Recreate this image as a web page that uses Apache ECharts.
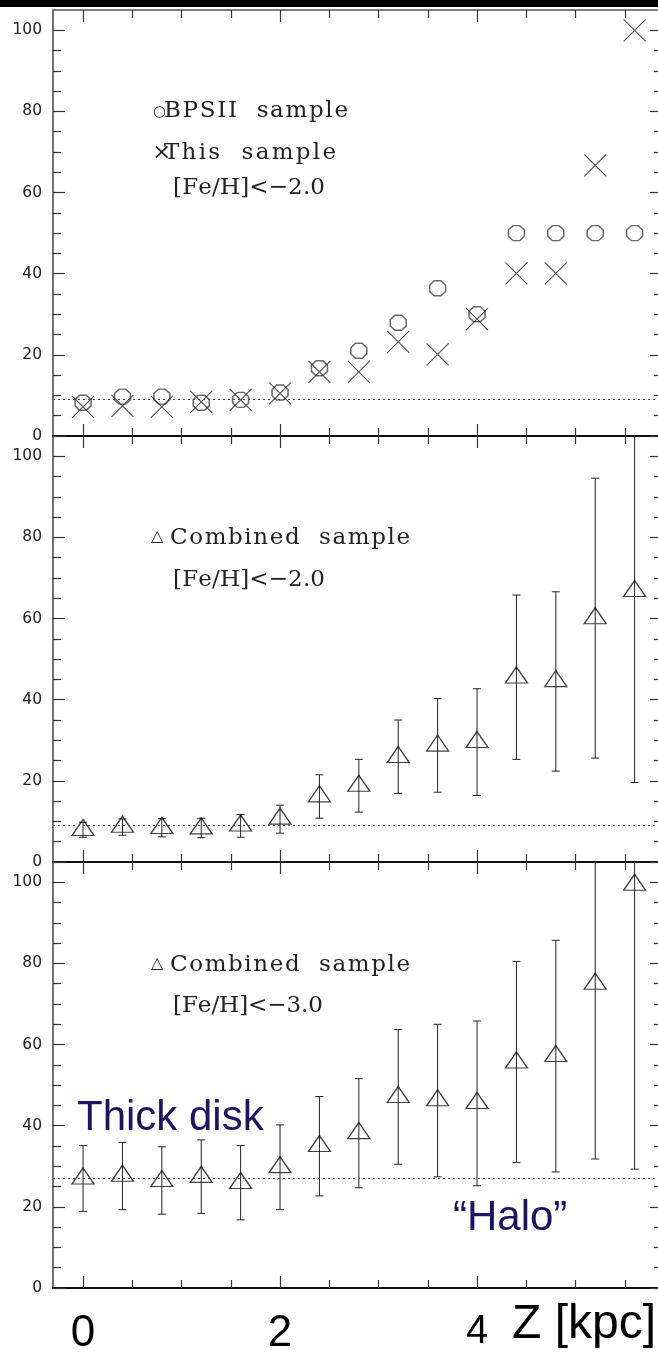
<!DOCTYPE html>
<html><head><meta charset="utf-8">
<script src="https://cdn.jsdelivr.net/npm/echarts@6/dist/echarts.min.js"></script>
<style>html,body{margin:0;padding:0;background:#fff}#c{width:658px;height:1354px}</style>
</head><body><div id="c"></div>
<script>
// ---- data ----
const zValues   = [0, 0.4, 0.8, 1.2, 1.6, 2.0, 2.4, 2.8, 3.2, 3.6, 4.0, 4.4, 4.8, 5.2, 5.6];
const bpsFrac   = [8.2, 9.7, 9.7, 8.2, 8.9, 10.7, 16.7, 21.0, 27.9, 36.4, 30.0, 50, 50, 50, 50];
const thisFrac  = [7.2, 7.4, 7.2, 8.4, 8.9, 10.5, 15.8, 15.8, 23.2, 20.1, 28.8, 40.1, 40.1, 66.7, 100];
const comb2Frac = [8.5, 9.3, 9.0, 8.9, 9.6, 11.3, 16.8, 19.4, 26.5, 29.3, 30.2, 46.1, 45.2, 60.7, 67.4];
const comb2Lo   = [6.1, 6.6, 6.2, 6.0, 6.1, 7.1, 10.8, 12.3, 16.9, 17.2, 16.4, 25.3, 22.4, 25.6, 19.6];
const comb2Hi   = [9.8, 10.6, 10.7, 10.8, 11.7, 14.0, 21.5, 25.3, 35.0, 40.3, 42.7, 65.8, 66.6, 94.6, 115];
const comb3Frac = [27.6, 28.3, 27.0, 28.0, 26.5, 30.4, 35.6, 38.8, 47.7, 46.9, 46.2, 56.2, 57.8, 75.6, 100];
const comb3Lo   = [18.9, 19.3, 18.2, 18.4, 16.8, 19.3, 22.7, 24.7, 30.5, 27.4, 25.2, 30.9, 28.6, 31.8, 29.3];
const comb3Hi   = [35.1, 35.9, 34.8, 36.5, 35.1, 40.2, 47.2, 51.6, 63.7, 65.0, 65.8, 80.5, 85.7, 118, 130];
const refLevels = [9, 9, 27];
const yMajorTicks = [0, 20, 40, 60, 80, 100];
const yMinorTicks = [5, 10, 15, 25, 30, 35, 45, 50, 55, 65, 70, 75, 85, 90, 95];
const xMajorTicks = [0, 2, 4];
const xMinorTicks = [0.5, 1, 1.5, 2.5, 3, 3.5, 4.5, 5, 5.5];
const xBigLabels  = ['0', '2', '4'];

// ---- layout / style ----
const XMIN = -0.305, XMAX = 5.878, YMIN = 0, YMAX = 105;
const gridTops = [10, 436, 862];
const GH = 426;
const OCT = 'path://M2.93,0L7.07,0L10,2.93L10,7.07L7.07,10L2.93,10L0,7.07L0,2.93Z';
const CROSS = 'path://M0,0L10,10M10,0L0,10';
const TICKC = '#333';

const chart = echarts.init(document.getElementById('c'), null, {renderer: 'canvas'});

const grids = gridTops.map(t => ({left: 53, top: t, width: 609, height: GH, containLabel: false, outerBoundsMode: 'none'}));

const xAxes = [], yAxes = [];
gridTops.forEach((t, g) => {
  const lineBottom = {show: true, onZero: false, lineStyle: {color: '#111', width: 2}};
  const lineTop = {show: g === 0, onZero: false, lineStyle: {color: '#555', width: 1.5}};
  const mk = (pos, major, line) => ({
    type: 'value', gridIndex: g, min: XMIN, max: XMAX, position: pos,
    axisLine: line,
    axisTick: {show: true, inside: true, length: major ? 12 : 8,
      customValues: major ? xMajorTicks : xMinorTicks,
      lineStyle: {color: TICKC, width: 1.2}},
    axisLabel: {show: false}, splitLine: {show: false}
  });
  const bMaj = mk('bottom', true, lineBottom);
  if (g === 2) {
    bMaj.axisLabel = {
      show: true, customValues: xMajorTicks, margin: 24,
      formatter: v => { const i = xMajorTicks.indexOf(v); return (i === 2 ? '{s|' : '{b|') + xBigLabels[i] + '}'; },
      rich: {
        b: {fontSize: 44, fontFamily: 'Liberation Sans', color: '#000', lineHeight: 44},
        s: {fontSize: 40, fontFamily: 'Liberation Sans', color: '#000', lineHeight: 40}
      }
    };
  }
  xAxes.push(bMaj, mk('bottom', false, {show: false, onZero: false}),
             mk('top', true, lineTop), mk('top', false, {show: false, onZero: false}));

  const ymk = (pos, major, line, labels) => ({
    type: 'value', gridIndex: g, min: YMIN, max: YMAX, position: pos,
    axisLine: line,
    axisTick: {show: true, inside: true, length: major ? 12 : 8,
      customValues: major ? yMajorTicks : yMinorTicks,
      lineStyle: {color: TICKC, width: 1.2}},
    axisLabel: labels ? {show: true, customValues: yMajorTicks, margin: 11,
      fontSize: 15.5, fontFamily: 'DejaVu Sans', color: '#222'} : {show: false},
    splitLine: {show: false}
  });
  yAxes.push(ymk('left', true, {show: true, onZero: false, lineStyle: {color: '#444', width: 1.5}}, true),
             ymk('left', false, {show: false, onZero: false}, false),
             ymk('right', true, {show: true, onZero: false, lineStyle: {color: '#444', width: 1.5}}, false),
             ymk('right', false, {show: false, onZero: false}, false));
});

const refLine = v => ({
  silent: true, symbol: ['none', 'none'], animation: false,
  label: {show: false},
  lineStyle: {type: [2, 3], color: '#444', width: 1},
  data: [{yAxis: v}]
});

function errorSeries(g, lo, hi) {
  return {
    type: 'custom', xAxisIndex: 4 * g, yAxisIndex: 4 * g, silent: true, z: 2,
    data: zValues.map((z, i) => [z, lo[i], hi[i]]),
    encode: {x: 0, y: [1, 2]},
    renderItem: (params, api) => {
      const x = api.value(0), l = api.value(1), h = api.value(2);
      const top = Math.min(h, YMAX);
      const p1 = api.coord([x, l]), p2 = api.coord([x, top]);
      const st = {stroke: '#222', lineWidth: 1};
      const ch = [
        {type: 'line', shape: {x1: p1[0], y1: p1[1], x2: p2[0], y2: p2[1]}, style: st},
        {type: 'line', shape: {x1: p1[0] - 4, y1: p1[1], x2: p1[0] + 4, y2: p1[1]}, style: st}
      ];
      if (h <= YMAX) ch.push({type: 'line', shape: {x1: p2[0] - 4, y1: p2[1], x2: p2[0] + 4, y2: p2[1]}, style: st});
      return {type: 'group', children: ch};
    }
  };
}

function triSeries(g, vals) {
  return {
    type: 'scatter', xAxisIndex: 4 * g, yAxisIndex: 4 * g, silent: true, z: 3,
    data: zValues.map((z, i) => [z, vals[i]]),
    symbol: 'triangle', symbolSize: [22, 16],
    itemStyle: {color: 'rgba(0,0,0,0)', borderColor: '#111', borderWidth: 1.3},
    markLine: refLine(refLevels[g])
  };
}

const series = [
  {type: 'scatter', xAxisIndex: 0, yAxisIndex: 0, silent: true,
   data: zValues.map((z, i) => [z, bpsFrac[i]]),
   symbol: OCT, symbolSize: [16, 15],
   itemStyle: {color: 'rgba(0,0,0,0)', borderColor: '#444', borderWidth: 1.5},
   markLine: refLine(refLevels[0])},
  {type: 'scatter', xAxisIndex: 0, yAxisIndex: 0, silent: true,
   data: zValues.map((z, i) => [z, thisFrac[i]]),
   symbol: CROSS, symbolSize: 22,
   itemStyle: {color: 'rgba(0,0,0,0)', borderColor: '#222', borderWidth: 1.1}},
  errorSeries(1, comb2Lo, comb2Hi), triSeries(1, comb2Frac),
  errorSeries(2, comb3Lo, comb3Hi), triSeries(2, comb3Frac)
];

// ---- text helpers ----
const mctx = document.createElement('canvas').getContext('2d');
function spaced(str, left, cy, size, width, family, color) {
  mctx.font = size + 'px ' + family;
  const chars = [...str];
  const ws = chars.map(ch => mctx.measureText(ch).width);
  const total = ws.reduce((a, b) => a + b, 0);
  const sp = chars.length > 1 ? (width - total) / (chars.length - 1) : 0;
  let x = left;
  const children = chars.map((ch, i) => {
    const el = {type: 'text', x: x, y: cy, silent: true,
      style: {text: ch, fontSize: size, fontFamily: family, fill: color, align: 'left', verticalAlign: 'middle'}};
    x += ws[i] + sp;
    return el;
  });
  return {type: 'group', children};
}
function txt(str, x, cy, size, family, color) {
  return {type: 'text', x: x, y: cy, silent: true,
    style: {text: str, fontSize: size, fontFamily: family, fill: color, align: 'left', verticalAlign: 'middle'}};
}
const SERIF = 'DejaVu Serif';
const SANS = 'DejaVu Sans';
const ARIAL = 'Liberation Sans';
const TC = '#222';
const NAVY = '#1b1464';
const FS = 23;

const graphic = [
  {type: 'rect', shape: {x: 0, y: 0, width: 658, height: 7}, style: {fill: '#000'}, silent: true},
  txt('○', 153, 112, 15, SANS, TC),
  spaced('BPSII  sample', 164, 111, FS, 184, SERIF, TC),
  txt('×', 152, 153, FS, SERIF, TC),
  spaced('This  sample', 164, 153, FS, 172, SERIF, TC),
  spaced('[Fe/H]<−2.0', 173, 188, FS, 152, SERIF, TC),
  txt('△', 151, 537, 16, SANS, TC),
  spaced('Combined  sample', 170, 538, FS, 240, SERIF, TC),
  spaced('[Fe/H]<−2.0', 173, 580, FS, 152, SERIF, TC),
  txt('△', 151, 964, 16, SANS, TC),
  spaced('Combined  sample', 170, 965, FS, 240, SERIF, TC),
  spaced('[Fe/H]<−3.0', 173, 1006, FS, 150, SERIF, TC),
  txt('Thick disk', 77, 1118, 42, ARIAL, NAVY),
  txt('“Halo”', 453, 1218, 42, ARIAL, NAVY),
  txt('Z [kpc]', 512, 1325, 48, ARIAL, '#000')
];

chart.setOption({
  animation: false,
  backgroundColor: '#fff',
  grid: grids,
  xAxis: xAxes,
  yAxis: yAxes,
  series: series,
  graphic: graphic
});
</script>
</body></html>
